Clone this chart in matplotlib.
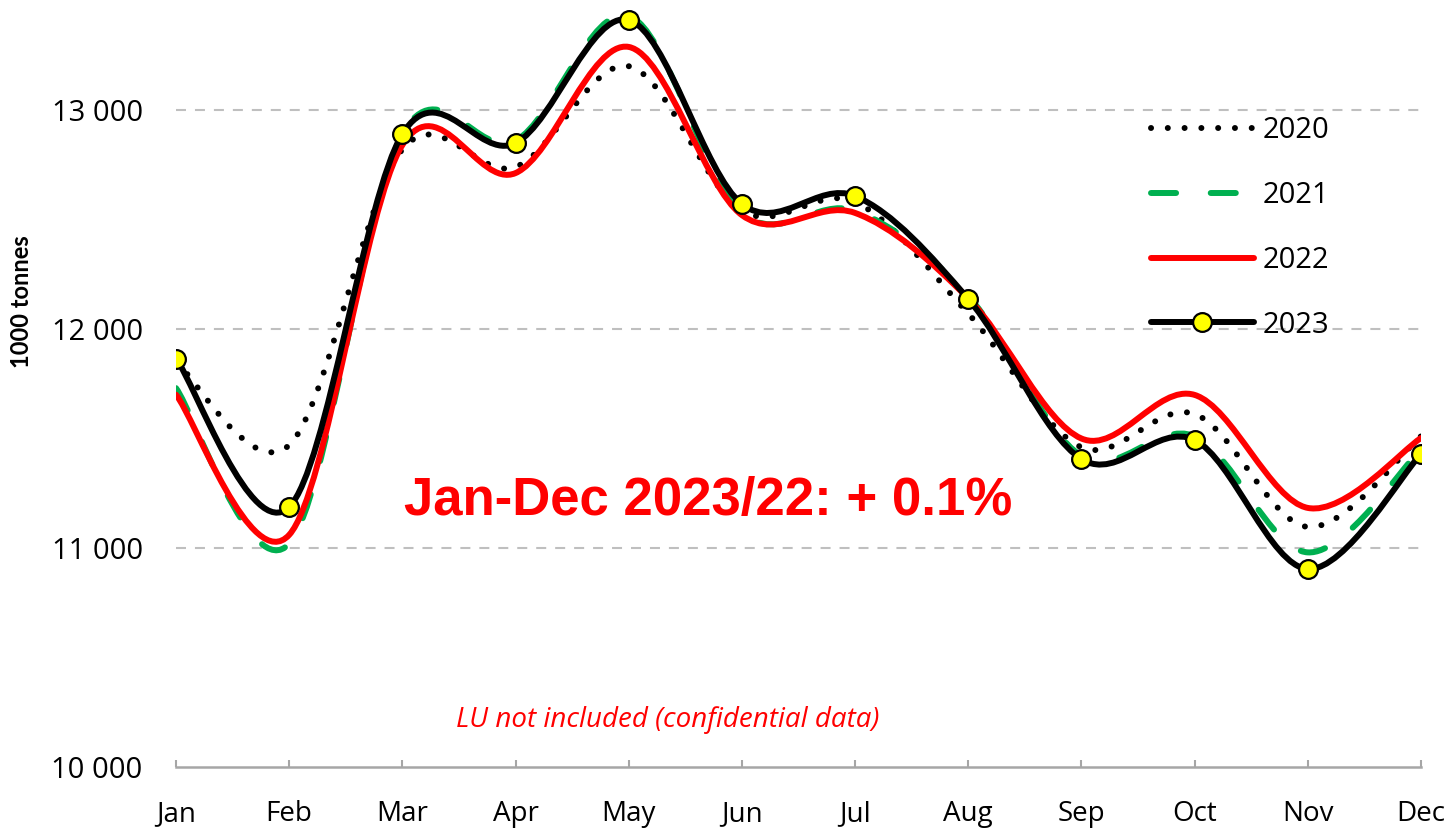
import matplotlib
matplotlib.use("Agg")
import matplotlib.pyplot as plt
from matplotlib.path import Path
from matplotlib.patches import PathPatch
from matplotlib.lines import Line2D
from matplotlib import font_manager as fm

# ---------------- data ----------------
months = ['Jan', 'Feb', 'Mar', 'Apr', 'May', 'Jun', 'Jul', 'Aug', 'Sep', 'Oct', 'Nov', 'Dec']
y2020 = [11850, 11470, 12820, 12740, 13200, 12540, 12580, 12070, 11460, 11612, 11096, 11510]
y2021 = [11730, 11020, 12890, 12860, 13430, 12530, 12540, 12150, 11420, 11510, 10980, 11450]
y2022 = [11700, 11060, 12840, 12712, 13288, 12520, 12530, 12140, 11500, 11699, 11183, 11502]
y2023 = [11865, 11187, 12890, 12849, 13411, 12571, 12607, 12137, 11406, 11493, 10904, 11429]
series_labels = ['2020', '2021', '2022', '2023']
yticks = [10000, 11000, 12000, 13000]
ytick_labels = ['10 000', '11 000', '12 000', '13 000']
annotation = 'Jan-Dec 2023/22: + 0.1%'
note = 'LU not included (confidential data)'
ylabel = '1000 tonnes'


def pick(cands):
    for c in cands:
        try:
            fm.findfont(fm.FontProperties(family=c), fallback_to_default=False)
            return c
        except Exception:
            pass
    return 'DejaVu Sans'


main_font = pick(['Open Sans', 'Lato', 'DejaVu Sans'])
narrow_font = pick(['Liberation Sans Narrow', 'Lato', 'DejaVu Sans'])
bold_font = pick(['Liberation Sans', 'DejaVu Sans'])
italic_font = pick(['Open Sans', 'Lato', 'DejaVu Sans'])
plt.rcParams['font.family'] = [main_font, 'DejaVu Sans']


def smooth_path(xs, ys):
    """Excel-like smoothed line: cubic Bezier through the points (Catmull-Rom tangents)."""
    n = len(xs)
    verts = [(xs[0], ys[0])]
    codes = [Path.MOVETO]
    for i in range(n - 1):
        a = max(i - 1, 0)
        b = min(i + 2, n - 1)
        c1 = (xs[i] + (xs[i + 1] - xs[a]) / 6.0, ys[i] + (ys[i + 1] - ys[a]) / 6.0)
        c2 = (xs[i + 1] - (xs[b] - xs[i]) / 6.0, ys[i + 1] - (ys[b] - ys[i]) / 6.0)
        verts += [c1, c2, (xs[i + 1], ys[i + 1])]
        codes += [Path.CURVE4] * 3
    return Path(verts, codes)


fig = plt.figure(figsize=(14.51, 8.36), dpi=100)
W, H = 1451.0, 836.0
ax = fig.add_axes([176 / W, (H - 767) / H, (1421 - 176) / W, (767 - 0.5) / H])

x = list(range(len(months)))

styles = [
    dict(color='black', lw=4.3, ls=(0, (0.01, 2.8)), cap='round'),
    dict(color='#00B050', lw=4.3, ls=(0, (4.2, 5.8)), cap='round'),
    dict(color='#FF0000', lw=4.3, ls='-', cap='round'),
    dict(color='black', lw=4.3, ls='-', cap='round'),
]
data = [y2020, y2021, y2022, y2023]

for k, (ys, st) in enumerate(zip(data, styles)):
    p = PathPatch(smooth_path(x, ys), facecolor='none', edgecolor=st['color'],
                  lw=st['lw'], linestyle=st['ls'], capstyle=st['cap'],
                  joinstyle='round', zorder=3 + k)
    ax.add_patch(p)

ax.plot(x, y2023, ls='none', marker='o', ms=13.5, mfc='#FFFF00', mec='black',
        mew=1.6, zorder=10)

ax.set_xlim(0, 11)
ax.set_ylim(10000, 13500)

# grid
for yv in yticks[1:]:
    ax.axhline(yv, color='#BFBFBF', lw=1.5, ls=(0, (4.8, 4.3)), zorder=1)

ax.set_yticks(yticks)
ax.set_yticklabels(ytick_labels)
ax.set_xticks(x)
ax.set_xticklabels(months)
ax.tick_params(axis='y', length=0, pad=24, labelsize=21, labelcolor='black')
ax.tick_params(axis='x', direction='in', length=5, width=1.5, color='#A6A6A6',
               pad=24, labelsize=20, labelcolor='black')
for s in ['top', 'right', 'left']:
    ax.spines[s].set_visible(False)
ax.spines['bottom'].set_color('#A6A6A6')
ax.spines['bottom'].set_linewidth(1.8)
ax.set_facecolor('none')

fig.text(22 / W, 1 - 302 / H, ylabel, rotation=90, ha='center', va='center',
         fontsize=17, fontweight='bold', family=[narrow_font, 'DejaVu Sans'])

ax.text(4.70, 11151, annotation, ha='center', va='baseline', color='#FF0000',
        fontsize=38, fontweight='bold', family=[bold_font, 'DejaVu Sans'], zorder=12)
ax.text(4.34, 10215, note, ha='center', va='center', color='#FF0000',
        fontsize=20, style='italic', family=[italic_font, 'DejaVu Sans'], zorder=12)

handles = []
for k, st in enumerate(styles):
    if k == 3:
        h = Line2D([], [], color=st['color'], lw=st['lw'], ls=st['ls'],
                   solid_capstyle='round', marker='o', ms=13.5, mfc='#FFFF00',
                   mec='black', mew=1.6)
    else:
        h = Line2D([], [], color=st['color'], lw=st['lw'], ls=st['ls'],
                   dash_capstyle='round', solid_capstyle='round')
    handles.append(h)

leg = ax.legend(handles, series_labels, loc='upper left',
                bbox_to_anchor=(1151 / W, 1 - 116 / H), bbox_transform=fig.transFigure,
                frameon=False, fontsize=21, handlelength=3.53, handletextpad=0.3,
                labelspacing=1.23, borderpad=0, borderaxespad=0, numpoints=1)

fig.savefig('out.png', dpi=100)
